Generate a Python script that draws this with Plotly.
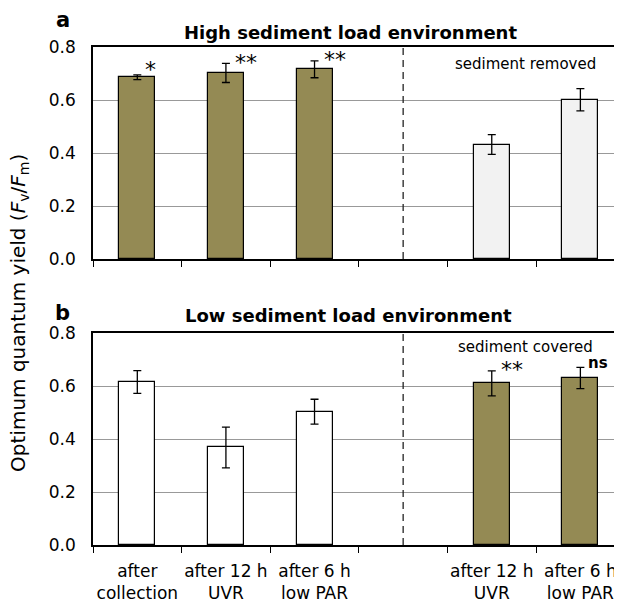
import plotly.graph_objects as go

# ---- data ----
categories = ["after<br>collection", "after 12 h<br>UVR", "after 6 h<br>low PAR", "",
              "after 12 h<br>UVR", "after 6 h<br>low PAR"]
high_vals = [0.686, 0.702, 0.716, None, 0.432, 0.601]
high_err = [0.009, 0.036, 0.032, None, 0.037, 0.042]
low_vals = [0.615, 0.368, 0.503, None, 0.610, 0.630]
low_err = [0.043, 0.077, 0.047, None, 0.047, 0.040]
high_sig = ["*", "**", "**", "", "", ""]
low_sig = ["", "", "", "", "**", "ns"]
divider_slot = 3
y_ticks = [0.0, 0.2, 0.4, 0.6, 0.8]

OLIVE = "#948A54"
LIGHT = "#F2F2F2"
WHITE = "#FFFFFF"
high_colors = [OLIVE, OLIVE, OLIVE, WHITE, LIGHT, LIGHT]
low_colors = [WHITE, WHITE, WHITE, WHITE, OLIVE, OLIVE]

FONT = "DejaVu Sans"
xs = list(range(len(categories)))
label_x = [i for i, c in enumerate(categories) if c]
label_text = [c for c in categories if c]

fig = go.Figure()

panels = [("x", "y", high_vals, high_err, high_colors, high_sig),
          ("x2", "y2", low_vals, low_err, low_colors, low_sig)]

for xa, ya, vals, errs, cols, sigs in panels:
    fig.add_trace(go.Bar(
        x=xs, y=vals, width=0.406, xaxis=xa, yaxis=ya,
        marker=dict(color=cols, line=dict(color="black", width=1.2)),
        error_y=dict(type="data", array=errs, visible=True, color="black",
                     thickness=1.3, width=4),
        showlegend=False, hoverinfo="skip"))

x_common = dict(
    range=[-0.5, 5.56], showline=True, linecolor="black",
    linewidth=1.5, mirror=True, showgrid=False, zeroline=False,
    tickmode="array", tickvals=label_x, ticks="", ticklabelstandoff=10,
    tickfont=dict(family=FONT, size=17, color="black"),
    minor=dict(tickmode="array", tickvals=[x - 0.5 for x in xs] + [xs[-1] + 0.5],
               ticks="outside", ticklen=6, tickcolor="black", tickwidth=1.3,
               showgrid=False))
y_common = dict(
    range=[0, 0.8], tickvals=y_ticks, ticktext=[f"{v:.1f}" for v in y_ticks],
    showline=True, linecolor="black", linewidth=1.5, mirror=False,
    showgrid=True, gridcolor="#999999", gridwidth=1.2, zeroline=False,
    ticks="", ticklabelstandoff=12,
    tickfont=dict(family=FONT, size=17, color="black"))

fig.update_layout(
    xaxis=dict(**x_common, ticktext=[""] * len(label_x), anchor="y"),
    yaxis=dict(**y_common, domain=[0.5743, 1.0], anchor="x"),
    xaxis2=dict(**x_common, ticktext=label_text, anchor="y2"),
    yaxis2=dict(**y_common, domain=[0.0, 0.4257], anchor="x2"),
)

# divider lines
for xa, ya in (("x", "y"), ("x2", "y2")):
    fig.add_shape(type="line", xref=xa, yref=f"{ya} domain",
                  x0=divider_slot, x1=divider_slot, y0=0, y1=1,
                  line=dict(color="#222222", width=1.3, dash="7px,5px"))

# significance marks
for xa, ya, vals, errs, cols, sigs in panels:
    for i, s in enumerate(sigs):
        if not s:
            continue
        bold = s == "ns"
        if s == "*":
            xs_, ys_ = 13, 5
        elif s == "**":
            xs_, ys_ = 20, 1
        else:
            xs_, ys_ = 18, 4
        fig.add_annotation(
            x=xs[i], y=vals[i] + errs[i], xref=xa, yref=ya,
            text=f"<b>{s}</b>" if bold else s, showarrow=False,
            xanchor="center", yanchor="middle", xshift=xs_, yshift=ys_,
            font=dict(family=FONT, size=15 if bold else 22, color="black"))

def ann(text, x, y, size, bold=False, **kw):
    fig.add_annotation(text=f"<b>{text}</b>" if bold else text, x=x, y=y,
                       xref="paper", yref="paper", showarrow=False,
                       xanchor="center", yanchor="middle",
                       font=dict(family=FONT, size=size, color="black"), **kw)

ann("High sediment load environment", 0.4804, 1.030, 18, bold=True)
ann("Low sediment load environment", 0.4767, 0.4618, 18, bold=True)
ann("a", -0.0559, 1.054, 21, bold=True)
ann("b", -0.0559, 0.4659, 21, bold=True)
ann("sediment removed", 0.8063, 0.9659, 15)
ann("sediment covered", 0.8063, 0.3976, 15)
fig.add_annotation(
    text="Optimum quantum yield (<i>F</i><sub>v</sub>/<i>F</i><sub>m</sub>)",
    x=0, y=0.466, xref="paper", yref="paper", xshift=-74, textangle=-90,
    showarrow=False, xanchor="center", yanchor="middle",
    font=dict(family=FONT, size=20, color="black"))

fig.update_layout(
    width=622, height=603, margin=dict(l=85, r=0, t=39, b=66),
    plot_bgcolor="white", paper_bgcolor="white", bargap=0,
    font=dict(family=FONT, color="black"))

fig.write_html("out.html")
